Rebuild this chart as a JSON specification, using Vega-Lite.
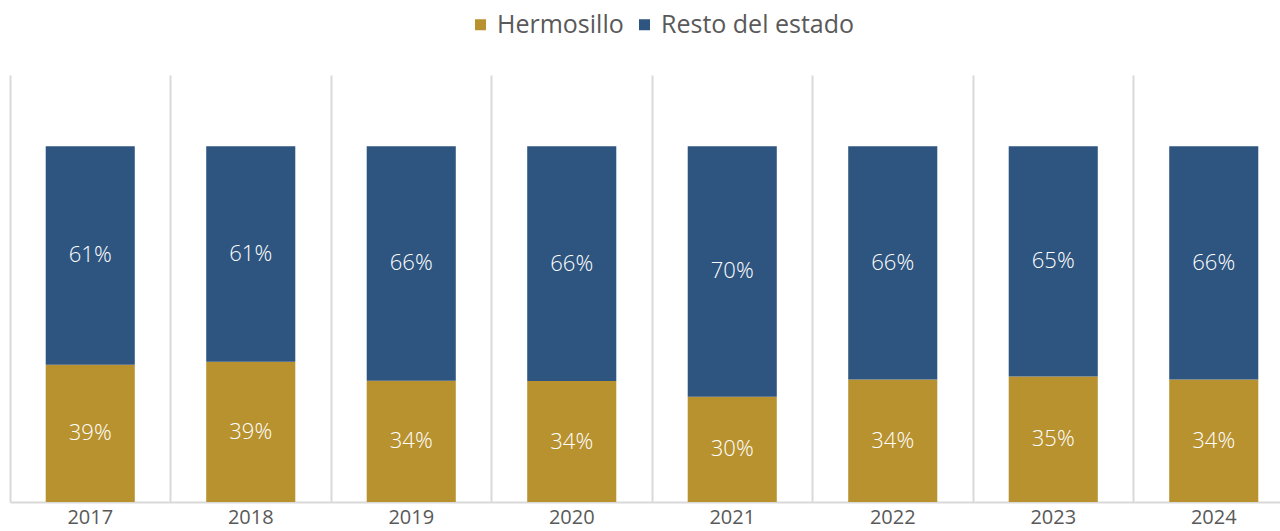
{
  "$schema": "https://vega.github.io/schema/vega-lite/v6.json",
  "autosize": "none",
  "width": 1270,
  "height": 427,
  "padding": {"left": 10, "top": 75, "right": 0, "bottom": 29},
  "background": "white",
  "config": {
    "view": {"stroke": null},
    "font": "Open Sans"
  },
  "data": {
    "values": [
      {"year": "2017", "serie": "Hermosillo", "value": 0.386},
      {"year": "2017", "serie": "Resto del estado", "value": 0.614},
      {"year": "2018", "serie": "Hermosillo", "value": 0.394},
      {"year": "2018", "serie": "Resto del estado", "value": 0.606},
      {"year": "2019", "serie": "Hermosillo", "value": 0.341},
      {"year": "2019", "serie": "Resto del estado", "value": 0.659},
      {"year": "2020", "serie": "Hermosillo", "value": 0.340},
      {"year": "2020", "serie": "Resto del estado", "value": 0.660},
      {"year": "2021", "serie": "Hermosillo", "value": 0.296},
      {"year": "2021", "serie": "Resto del estado", "value": 0.704},
      {"year": "2022", "serie": "Hermosillo", "value": 0.344},
      {"year": "2022", "serie": "Resto del estado", "value": 0.656},
      {"year": "2023", "serie": "Hermosillo", "value": 0.353},
      {"year": "2023", "serie": "Resto del estado", "value": 0.647},
      {"year": "2024", "serie": "Hermosillo", "value": 0.344},
      {"year": "2024", "serie": "Resto del estado", "value": 0.656}
    ]
  },
  "encoding": {
    "x": {
      "field": "year",
      "type": "nominal",
      "scale": {"paddingInner": 0, "paddingOuter": 0, "range": [0, 1284]},
      "axis": {
        "title": null,
        "labelAngle": 0,
        "bandPosition": 0,
        "labelFontSize": 20,
        "labelColor": "#595959",
        "labelPadding": 5,
        "ticks": false,
        "grid": true,
        "gridColor": "#d9d9d9",
        "gridWidth": 2,
        "domainColor": "#d9d9d9",
        "domainWidth": 2
      }
    }
  },
  "layer": [
    {
      "mark": {"type": "bar", "width": {"band": 0.555}},
      "encoding": {
        "y": {
          "field": "value",
          "type": "quantitative",
          "stack": "zero",
          "scale": {"domain": [0, 1.2]},
          "axis": null
        },
        "color": {
          "field": "serie",
          "type": "nominal",
          "scale": {"domain": ["Hermosillo", "Resto del estado"], "range": ["#B8922F", "#2E5580"]},
          "legend": {
            "title": null,
            "orient": "none",
            "direction": "horizontal",
            "legendX": 458,
            "legendY": -63,
            "symbolType": "square",
            "symbolSize": 121,
            "symbolStrokeWidth": 0,
            "labelFontSize": 25,
            "labelColor": "#595959",
            "labelOffset": 4,
            "labelLimit": 0,
            "columnPadding": 8,
            "padding": 0
          }
        },
        "order": {"field": "serie", "sort": "ascending"}
      }
    },
    {
      "transform": [
        {"stack": "value", "groupby": ["year"], "sort": [{"field": "serie", "order": "ascending"}], "as": ["v0", "v1"]},
        {"fold": ["v0", "v1"], "as": ["k", "pos"]}
      ],
      "mark": {"type": "text", "color": "white", "fontSize": 22, "fontWeight": 300, "baseline": "middle"},
      "encoding": {
        "y": {"aggregate": "mean", "field": "pos", "type": "quantitative"},
        "detail": {"field": "serie"},
        "text": {"aggregate": "max", "field": "value", "type": "quantitative", "format": ".0%"}
      }
    }
  ]
}
